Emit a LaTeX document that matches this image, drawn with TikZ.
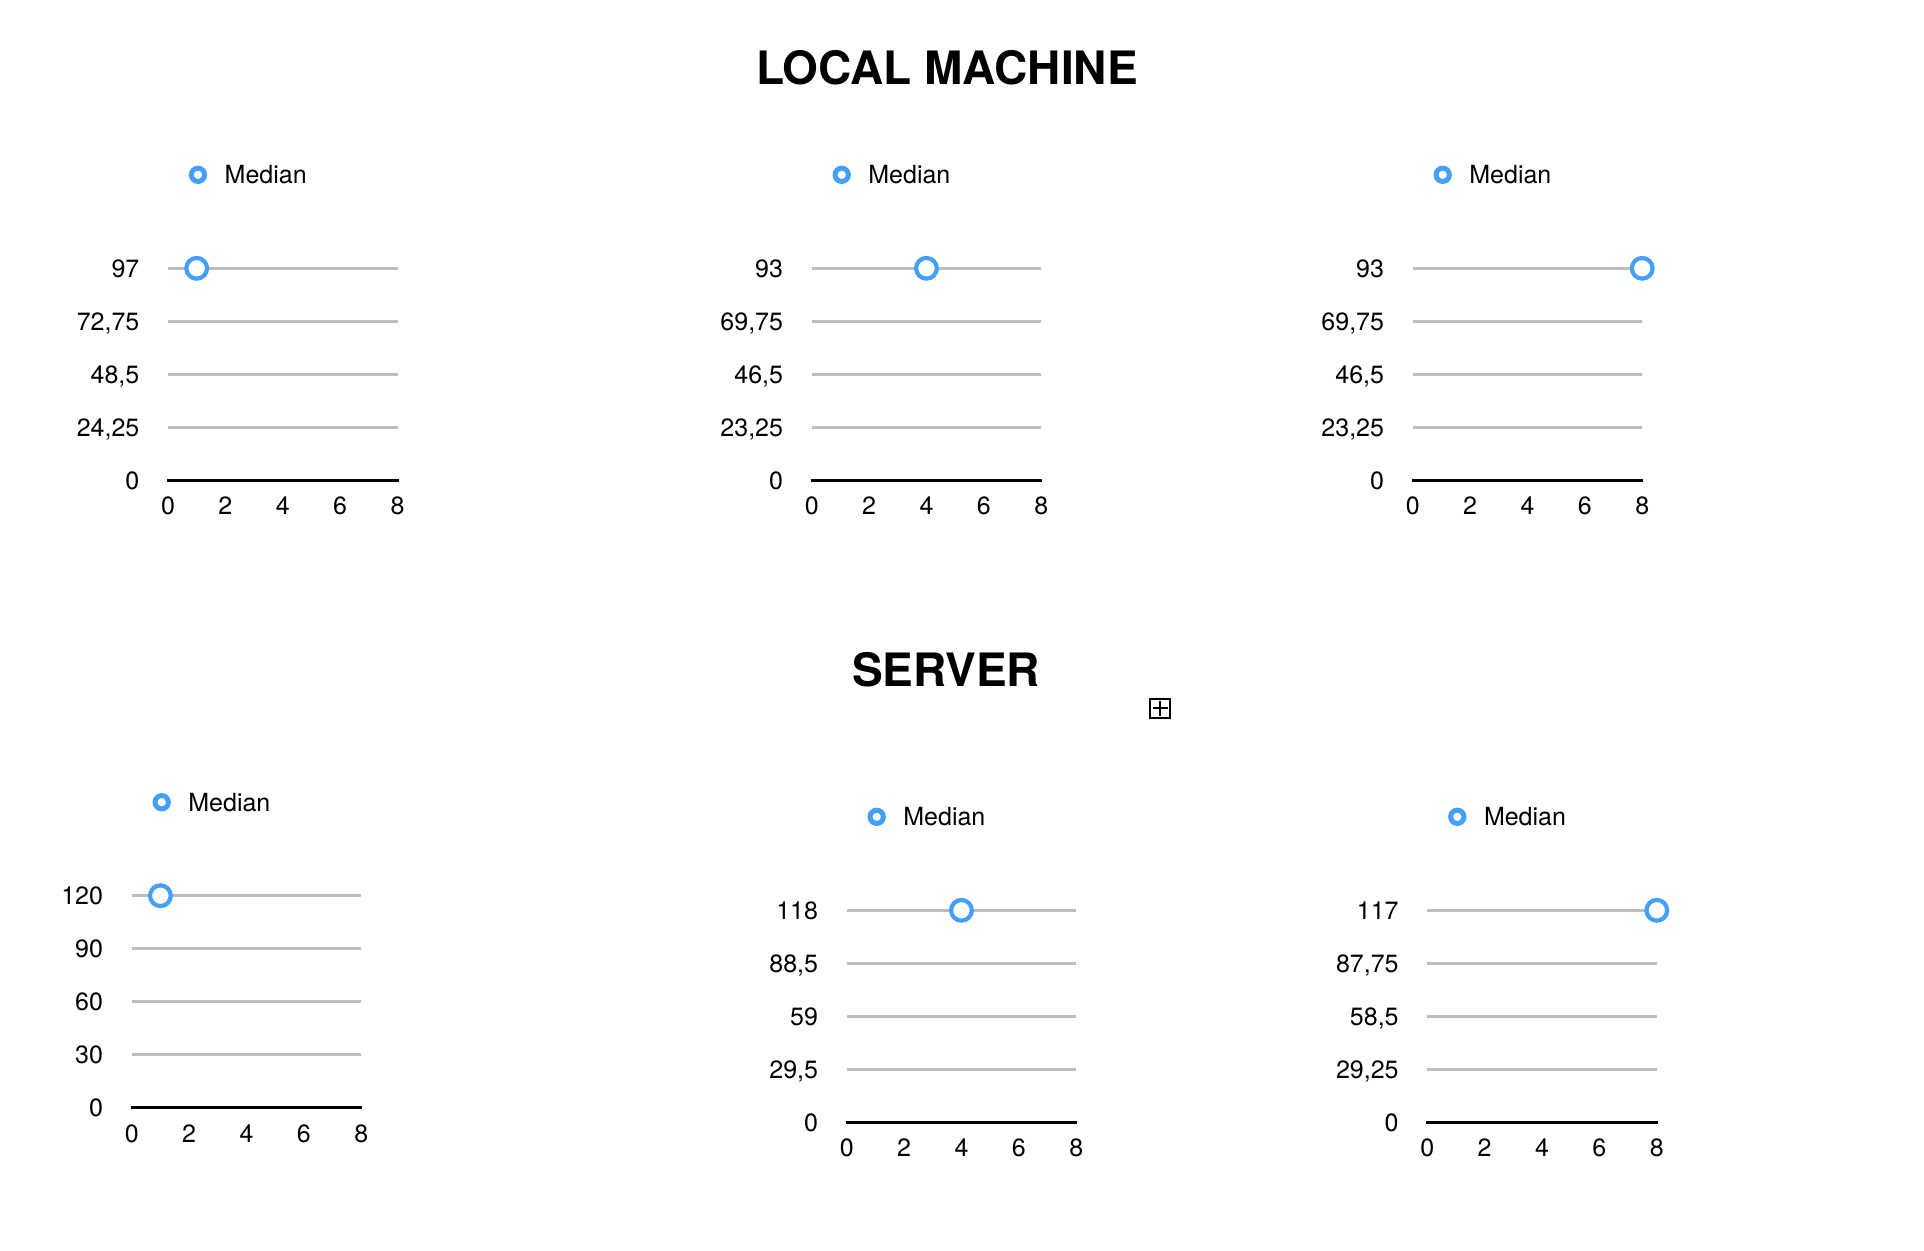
\documentclass[tikz,border=0pt]{standalone}
\usepackage{fontspec}
\setmainfont{TeX Gyre Heros}
\definecolor{mblue}{RGB}{66,160,250}
\definecolor{mgrid}{RGB}{190,190,190}
\tikzset{
 gridline/.style={draw=mgrid, line width=2.6pt},
 axisline/.style={draw=black, line width=3pt},
 ticklab/.style={font=\fontsize{25}{29}\selectfont, inner sep=0pt},
 ylab/.style={ticklab, anchor=base east},
 xlab/.style={ticklab, anchor=base},
 legtext/.style={font=\fontsize{25}{29}\selectfont, inner sep=0pt, anchor=base west},
 legmark/.style={circle, draw=mblue, line width=5pt, minimum size=13.3pt, inner sep=0pt, fill=white},
 datamark/.style={circle, draw=mblue, line width=4.2pt, minimum size=20.7pt, inner sep=0pt, fill=white},
 titletext/.style={font=\fontsize{46}{52}\selectfont\bfseries, inner sep=0pt, anchor=base},
}
\newcommand{\drawchart}[5]{% #1 name, #2 left x, #3 top gridline y, #4 labels, #5 point x-value
 \pgfmathsetmacro{\cL}{#2}
 \pgfmathsetmacro{\cR}{#2+229.5}
 \pgfmathsetmacro{\cT}{#3}
 \pgfmathsetmacro{\cA}{#3+212}
 \foreach \lab [count=\i from 0] in {#4} {
   \pgfmathsetmacro{\gy}{\cT+\i*53}
   \ifnum\i<4 \draw[gridline] (\cL,\gy) -- (\cR,\gy); \fi
   \node[ylab] (#1-y\i) at (\cL-28.5,\gy+9) {\lab};
 }
 \draw[axisline] (\cL-1,\cA) -- (\cR+1,\cA);
 \foreach \v in {0,2,4,6,8} {
   \node[xlab] (#1-x\v) at (\cL+\v*229.5/8,\cA+34.5) {\v};
 }
 \node[datamark] (#1-pt) at (\cL+#5*229.5/8,\cT) {};
 \node[legmark] (#1-lm) at (\cL+30,\cT-93.5) {};
 \node[legtext] (#1-lt) at (\cL+56.5,\cT-84.5) {Median};
}
\begin{document}
\begin{tikzpicture}[x=1pt,y=-1pt]
 \fill[white] (0,0) rectangle (1924,1250);
 \useasboundingbox (0,0) rectangle (1924,1250);
 \node[titletext] (t1) at (947,84.5) {LOCAL MACHINE};
 \node[titletext] (t2) at (946,686.5) {SERVER};
 \node[draw, line width=2pt, minimum size=19.4pt, inner sep=0pt] (icon) at (1160,708.2) {};
 \draw[line width=1.8pt] (icon.center) +(-7.5,0) -- +(7.5,0);
 \draw[line width=1.8pt] (icon.center) +(0,-7.5) -- +(0,7.5);
 \drawchart{c1}{168}{268.3}{{97},{72,75},{48,5},{24,25},{0}}{1}
 \drawchart{c2}{811.7}{268.3}{{93},{69,75},{46,5},{23,25},{0}}{4}
 \drawchart{c3}{1412.7}{268.3}{{93},{69,75},{46,5},{23,25},{0}}{8}
 \drawchart{c4}{131.7}{895.7}{{120},{90},{60},{30},{0}}{1}
 \drawchart{c5}{846.7}{910.3}{{118},{88,5},{59},{29,5},{0}}{4}
 \drawchart{c6}{1427.3}{910.3}{{117},{87,75},{58,5},{29,25},{0}}{8}
\end{tikzpicture}
\end{document}
